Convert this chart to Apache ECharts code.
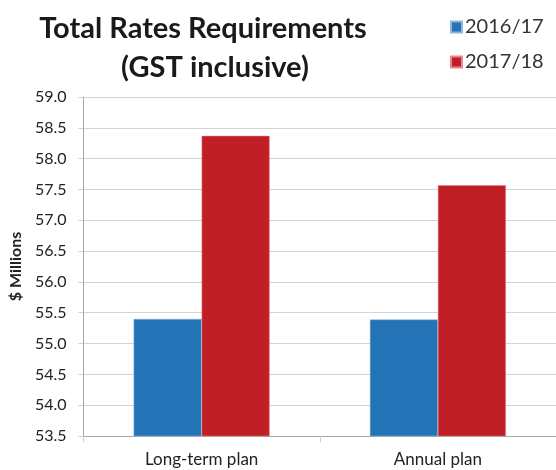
<!DOCTYPE html>
<html>
<head>
<meta charset="utf-8">
<script src="https://cdn.jsdelivr.net/npm/echarts@6/dist/echarts.min.js"></script>
<style>
  html, body { margin: 0; padding: 0; background: #fff; }
  #chart { width: 556px; height: 470px; }
</style>
</head>
<body>
<div id="chart"></div>
<script>
// Rates requirements, $ millions (GST inclusive)
const categories = ['Long-term plan', 'Annual plan'];
const seriesNames = ['2016/17', '2017/18'];
const values2016 = [55.40, 55.39];
const values2017 = [58.37, 57.57];
const yTicks = { min: 53.5, max: 59.0, step: 0.5 };

const font = 'Lato, "Open Sans", sans-serif';
const chart = echarts.init(document.getElementById('chart'));

chart.setOption({
  animation: false,
  backgroundColor: '#ffffff',
  title: [
    {
      text: 'Total Rates Requirements',
      left: 198, top: 9, textAlign: 'center',
      textStyle: { fontFamily: font, fontWeight: 'bold', fontSize: 29, color: '#1a1a1a' }
    },
    {
      text: '(GST inclusive)',
      left: 210, top: 48, textAlign: 'center',
      textStyle: { fontFamily: font, fontWeight: 'bold', fontSize: 29, color: '#1a1a1a' }
    }
  ],
  legend: {
    orient: 'vertical',
    left: 445, top: 12,
    itemWidth: 11, itemHeight: 11, itemGap: 15,
    textStyle: { fontFamily: font, fontSize: 20, color: '#333', padding: [0, 0, 0, -2] },
    data: seriesNames.map(n => ({ name: n, icon: 'rect' }))
  },
  grid: { left: 81, top: 97, width: 480, height: 339, containLabel: false },
  xAxis: {
    type: 'category',
    data: categories,
    axisLine: { lineStyle: { color: '#a6a6a6', width: 1 } },
    axisTick: { show: true, length: 6, lineStyle: { color: '#d0d0d0' } },
    axisLabel: { fontFamily: font, fontSize: 17, color: '#222', margin: 15 }
  },
  yAxis: {
    type: 'value',
    min: yTicks.min, max: yTicks.max, interval: yTicks.step,
    name: '$ Millions',
    nameLocation: 'middle',
    nameGap: 58,
    nameRotate: 90,
    nameTextStyle: { fontFamily: font, fontWeight: 'bold', fontSize: 16, color: '#222' },
    axisLine: { show: true, lineStyle: { color: '#a6a6a6', width: 1 } },
    axisTick: { show: true, length: 5, lineStyle: { color: '#d0d0d0' } },
    axisLabel: {
      fontFamily: font, fontSize: 16, color: '#222', margin: 17,
      formatter: v => v.toFixed(1)
    },
    splitLine: { lineStyle: { color: '#d4d4d4', width: 1 } }
  },
  series: [
    {
      name: seriesNames[0], type: 'bar', data: values2016,
      barWidth: 68, barGap: '0%',
      itemStyle: { color: '#2473b7', borderColor: '#8fb6dc', borderWidth: 0.5 }
    },
    {
      name: seriesNames[1], type: 'bar', data: values2017,
      barWidth: 68, barGap: '0%',
      itemStyle: { color: '#c01f26', borderColor: '#e38a8e', borderWidth: 0.5 }
    }
  ]
});
</script>
</body>
</html>
